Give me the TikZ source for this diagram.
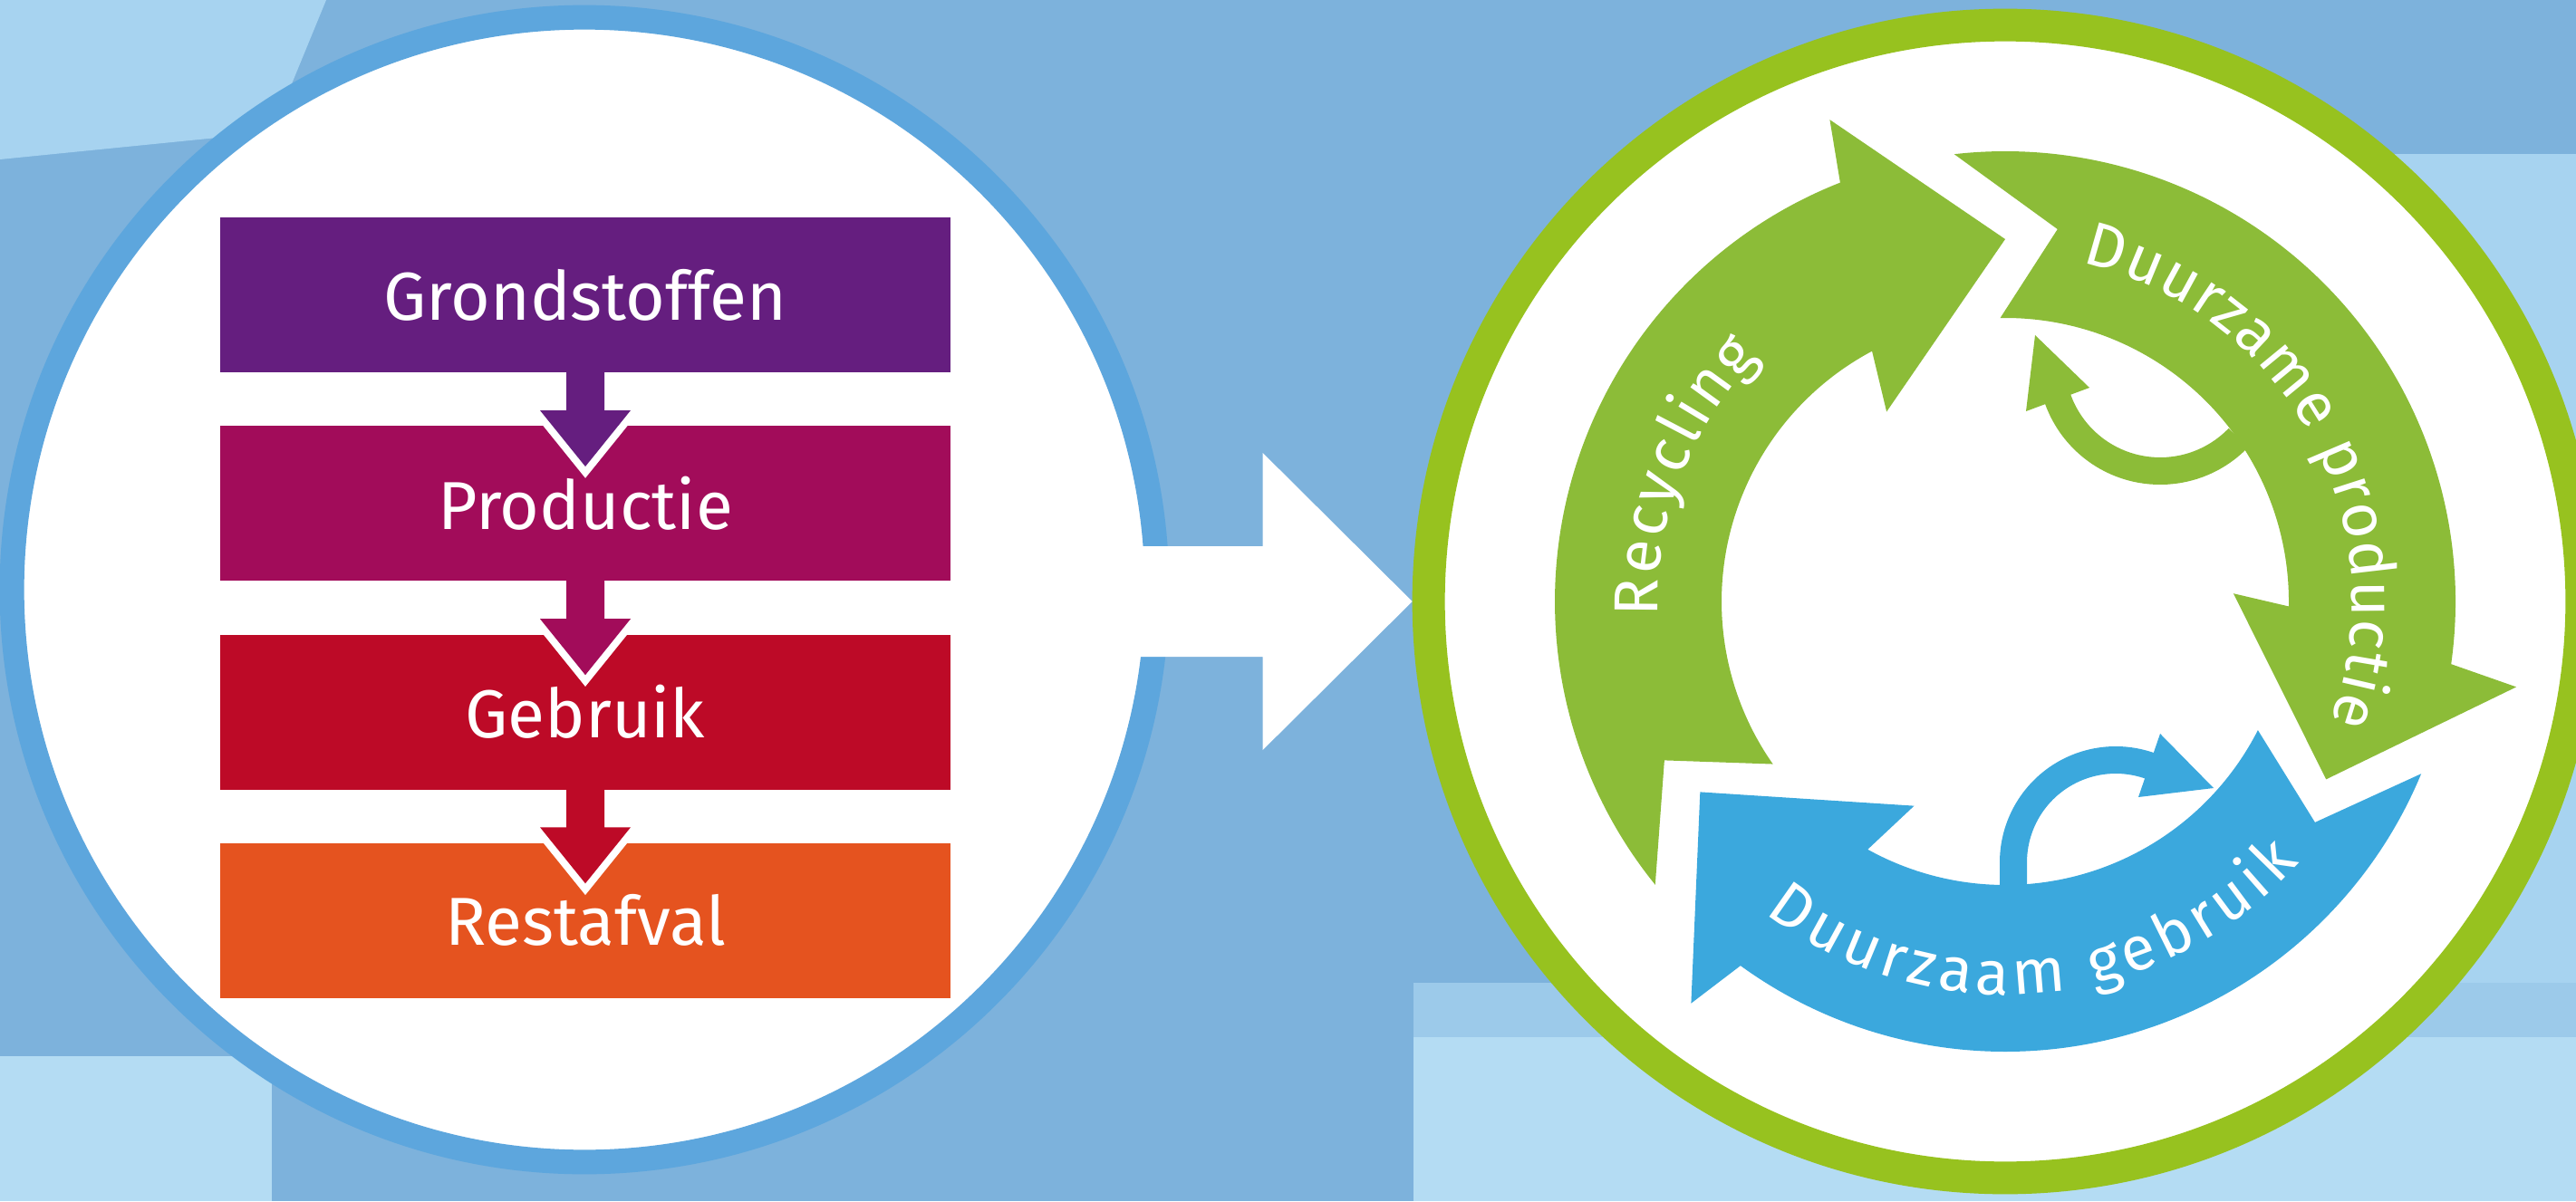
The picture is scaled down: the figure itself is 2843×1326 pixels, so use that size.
\documentclass[tikz,border=0pt]{standalone}
\usepackage{fontspec}
\setmainfont{Fira Sans}
\usetikzlibrary{matrix,calc,decorations.text}

\definecolor{bgmid}{HTML}{7DB2DC}
\definecolor{bglight}{HTML}{A7D3F0}
\definecolor{bgband}{HTML}{9CCAEA}
\definecolor{bgpale}{HTML}{B4DCF3}
\definecolor{ringblue}{HTML}{5DA6DD}
\definecolor{ringgreen}{HTML}{97C21F}
\definecolor{cyclegreen}{HTML}{8CBC38}
\definecolor{cycleblue}{HTML}{3BA8DD}
\definecolor{grondc}{HTML}{651E7F}
\definecolor{prodc}{HTML}{A20C5A}
\definecolor{gebrc}{HTML}{BD0A27}
\definecolor{restc}{HTML}{E5531F}

\newcommand{\boxfont}{\fontsize{21.3}{25}\selectfont}
\newcommand{\arcfont}{\fontsize{19.5}{22}\selectfont}

\begin{document}
\begin{tikzpicture}[x=0.01cm, y=0.01cm,
  disc/.style={circle, fill=white, inner sep=0pt},
  stage/.style={rectangle, minimum width=8.06cm, minimum height=1.71cm, inner sep=0pt, text=white, font=\boxfont},
  loop/.style={line width=0.3cm}]

\useasboundingbox (0,0) rectangle (2843,1326);
\clip (0,0) rectangle (2843,1326);

% background
\fill[bgmid] (0,0) rectangle (2843,1326);
\fill[bglight] (0,1326) -- (360,1326) -- (300,1180) -- (0,1150) -- cycle;
\fill[bgpale] (0,0) rectangle (300,160);
\fill[bglight] (2600,241) rectangle (2843,1156);
\fill[bgband] (1560,181) rectangle (2843,241);
\fill[bgpale] (1560,0) rectangle (2843,181);

\node[disc, draw=ringblue, line width=0.27cm, outer sep=0.135cm, minimum size=12.63cm] (leftdisc) at (645,675) {};
\node[disc, draw=ringgreen, line width=0.36cm, outer sep=0.18cm, minimum size=12.72cm] (rightdisc) at (2213,662) {};

% big arrow
\fill[white] (leftdisc.center |- rightdisc.west) ++(0,61) -- ($(rightdisc.west)+(-165,61)$) -- ++(0,103) -- (rightdisc.west) -- ++(-165,-164) -- ++(0,103) -- ($(leftdisc.center |- rightdisc.west)+(0,-61)$) -- cycle;

\matrix (steps) [matrix of nodes, row sep=0.59cm, nodes={stage},
  row 1/.style={nodes={fill=grondc}}, row 2/.style={nodes={fill=prodc}},
  row 3/.style={nodes={fill=gebrc}}, row 4/.style={nodes={fill=restc}}] at (646,655) {
Grondstoffen \\
Productie \\
Gebruik \\
Restafval \\
};

\draw[white, line width=0.16cm] ($(steps-1-1.south)+(-50,-41)$) -- ++(50,-62) -- ++(50,62);
\draw[white, line width=0.16cm] ($(steps-2-1.south)+(-50,-41)$) -- ++(50,-62) -- ++(50,62);
\draw[white, line width=0.16cm] ($(steps-3-1.south)+(-50,-41)$) -- ++(50,-62) -- ++(50,62);
\fill[grondc] ($(steps-1-1.south)+(-21,1)$) -- ++(0,-42) -- ++(-29,0) -- ++(50,-62) -- ++(50,62) -- ++(-29,0) -- ++(0,42) -- cycle;
\fill[prodc] ($(steps-2-1.south)+(-21,1)$) -- ++(0,-42) -- ++(-29,0) -- ++(50,-62) -- ++(50,62) -- ++(-29,0) -- ++(0,42) -- cycle;
\fill[gebrc] ($(steps-3-1.south)+(-21,1)$) -- ++(0,-42) -- ++(-29,0) -- ++(50,-62) -- ++(50,62) -- ++(-29,0) -- ++(0,42) -- cycle;

% cycle
\begin{scope}[shift={(rightdisc.center)}]
\fill[cyclegreen] (90:400) -- (110:566) -- (111.5:497) arc[start angle=111.5, end angle=219, radius=497] -- (205:415) -- (215:313) arc[start angle=215, end angle=118, radius=313] -- (122:247) -- cycle;
\fill[cyclegreen] (-29:405) -- (-9.5:572) -- (-8:497) arc[start angle=-8, end angle=96.5, radius=497] -- (82:415) -- (91:313) arc[start angle=91, end angle=-1, radius=313] -- (2:252) -- cycle;
\fill[cycleblue] (212:397) -- (232:563) -- (234:497) arc[start angle=234, end angle=337.5, radius=497] -- (324.5:420) -- (333:313) arc[start angle=333, end angle=241, radius=313] -- (246:247) -- cycle;

\path[decorate, decoration={text along path, text align=center, text={|\arcfont\color{white}\kern0.8pt|Recycling}}] (219:383) arc[start angle=219, end angle=99, radius=383];
\path[decorate, decoration={text along path, text align=center, text={|\arcfont\color{white}\kern0.3pt|Duurzame productie}}] (98.5:383) arc[start angle=98.5, end angle=-41.5, radius=383];
\path[decorate, decoration={text along path, text align=center, text={|\arcfont\color{white}\kern1.6pt|Duurzaam gebruik}}] (215:434) arc[start angle=215, end angle=335, radius=434];
\end{scope}

% small loops
\draw[loop, cyclegreen] (2384,926) ++(-44:120) arc[start angle=-44, end angle=-162, radius=120];
\fill[cyclegreen] (2236,872) -- (2306,898) -- (2246,956) -- cycle;
\draw[loop, cycleblue] (2222,340) -- (2222,374) arc[start angle=180, end angle=68.8, radius=113];
\fill[cycleblue] (2384,516) -- (2443,456) -- (2360,446) -- cycle;

\end{tikzpicture}
\end{document}
